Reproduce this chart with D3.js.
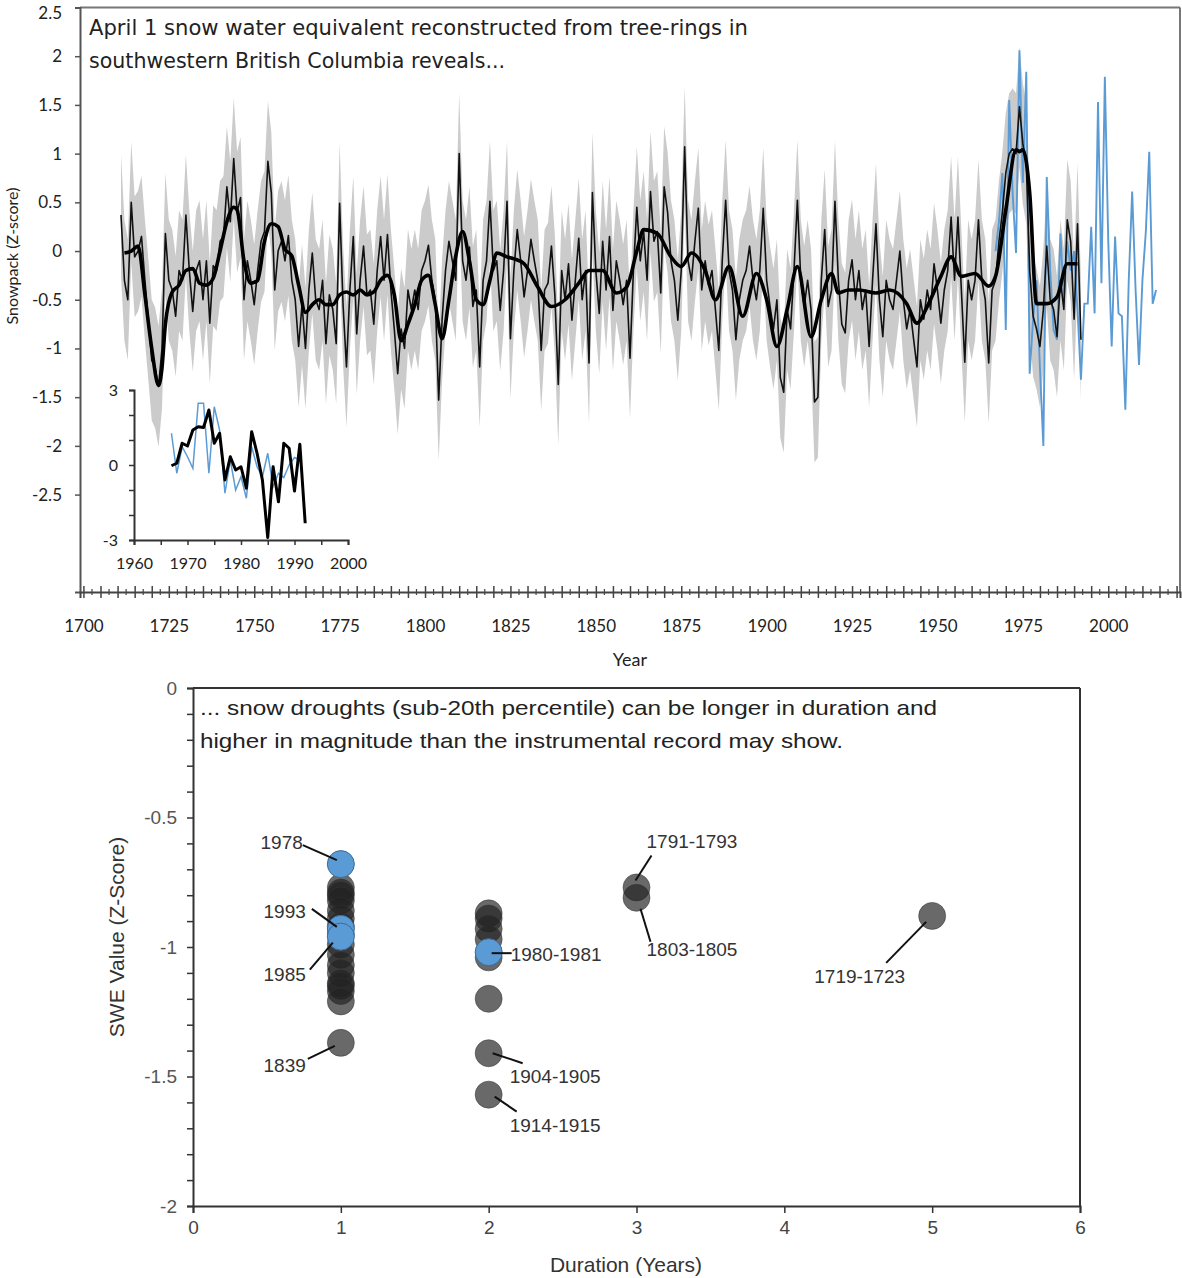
<!DOCTYPE html>
<html>
<head>
<meta charset="utf-8">
<script src="https://cdn.jsdelivr.net/npm/d3@7"></script>
<style>
  body { margin: 0; background: #fff; }
  svg { display: block; }
</style>
</head>
<body>
<svg id="chart" width="1182" height="1278"></svg>
<script>
// ---------------- DATA ----------------
// Tree-ring reconstruction of April 1 SWE (z-score), yearly from 1711
const reconStartYear = 1711;
const reconValues = [
  0.37, -0.3, -0.5, 0.5, -0.06, 0.0, 0.15, -0.3, -0.7, -1.12,
  -1.2, -1.39, -1.0, 0.18, -0.3, -0.4, -0.67, -0.2, -0.3, 0.37,
  -0.2, -0.62, -0.2, -0.1, -0.5, -0.1, -0.74, -0.15, -0.2, 0.1,
  0.15, 0.66, 0.3, 0.95, 0.4, 0.55, -0.5, -0.1, -0.3, -0.55,
  -0.2, 0.1, 0.2, 0.92, 0.6, -0.4, 0.0, 0.1, -0.1, 0.16,
  -0.3, -0.5, -0.98, -0.55, -1.0, -0.4, -0.02, -0.5, -0.6, -0.3,
  -0.95, -0.45, -0.6, -0.95, 0.49, -0.55, -1.19, -0.4, 0.15, -0.85,
  -0.3, 0.05, -0.45, -0.4, -0.75, -0.2, 0.15, -0.3, 0.17, -0.4,
  -0.8, -1.26, -0.8, -1.0, -0.4, -0.6, -0.4, -0.6, -0.2, -0.1,
  0.06, -0.3, -0.5, -1.53, -0.7, -0.2, 0.1, -0.1, -0.3, 1.0,
  -0.1, -0.3, 0.04, -0.57, -0.4, -1.19, -0.3, -0.1, 0.51, -0.2,
  -0.1, -0.61, -0.2, 0.51, -0.9, -0.2, 0.22, -0.1, -0.47, -0.2,
  0.12, -0.1, -0.3, -1.02, -0.4, -0.33, 0.05, -0.45, -1.37, -0.2,
  -0.5, -0.13, -0.71, -0.3, 0.13, -0.5, -0.2, -1.15, 0.6, -0.2,
  -0.64, 0.1, -0.4, 0.15, -0.61, -0.1, -0.3, -0.55, -0.3, -1.1,
  -0.2, 0.45, -0.1, 0.2, -0.3, 0.61, 0.1, 0.2, -0.43, 0.66,
  0.4, -0.1, -0.3, -0.71, -0.2, 1.07, -0.1, -0.3, 0.1, 0.44,
  -0.4, -0.1, -0.35, -0.2, -0.6, -1.02, -0.1, 0.52, -0.2, -0.4,
  -0.91, -0.5, -0.3, -0.2, 0.05, -0.3, -0.5, -0.2, 0.44, -0.3,
  -0.57, -0.8, -0.5, -1.3, -1.45, -0.6, -0.8, -0.2, 0.52, -0.3,
  -0.57, -0.3, -0.6, -1.55, -1.5, -0.3, 0.22, -0.57, -0.4, 0.51,
  -0.3, -0.75, -0.84, -0.3, -0.09, -0.5, -0.2, -0.6, -0.4, -0.98,
  -0.3, 0.28, -0.5, -0.88, -0.3, -0.5, -0.6, -0.3, 0.0, -0.5,
  -0.8, -0.6, -0.9, -1.19, -0.5, -0.7, -0.4, -0.6, -0.13, -0.4,
  -0.74, -0.4, -0.2, 0.35, -0.3, 0.35, -0.4, -1.14, -0.3, -0.5,
  -0.3, 0.32, -0.3, -0.5, -1.15, -0.4, -0.3, 0.1, 0.4, 0.8,
  1.0, 1.05, 1.0, 1.48, 1.1, 0.9, -0.2, -0.67, -0.8, -0.98,
  -0.6, 0.05, -0.5, -0.6, -0.88, -0.3, -0.6, 0.32, 0.1, -0.7,
  0.28, -0.91
];
// Uncertainty envelope half-width (z-score units)
const bandHalfWidth = 0.62;

// Smoothed reconstruction (thick line)
const smoothYears = [1712,1714,1716,1718,1720,1722,1723,1724,1726,1728,1730,1732,1734,1736,1738,1740,1742,1744,1745,1747,1749,1751,1753,1755,1757,1759,1761,1763,1765,1767,1769,1771,1773,1775,1777,1779,1781,1783,1785,1787,1789,1791,1793,1795,1797,1799,1801,1803,1805,1807,1809,1811,1813,1815,1817,1819,1821,1824,1826,1829,1833,1837,1841,1845,1848,1852,1856,1859,1862,1864,1868,1872,1875,1878,1882,1885,1889,1893,1897,1900,1903,1906,1909,1913,1916,1919,1921,1924,1927,1932,1936,1941,1944,1947,1951,1954,1957,1961,1965,1967,1970,1973,1974,1975,1977,1979,1982,1985,1988,1991];
const smoothValues = [-0.02,0.0,0.05,-0.45,-1.0,-1.38,-1.2,-0.75,-0.42,-0.35,-0.2,-0.18,-0.33,-0.35,-0.28,0.0,0.3,0.45,0.42,-0.1,-0.33,-0.3,0.1,0.28,0.25,0.02,-0.05,-0.35,-0.63,-0.55,-0.5,-0.55,-0.55,-0.45,-0.42,-0.45,-0.4,-0.45,-0.42,-0.3,-0.25,-0.45,-0.92,-0.75,-0.55,-0.3,-0.25,-0.55,-0.9,-0.5,-0.05,0.2,-0.1,-0.5,-0.55,-0.3,-0.02,-0.06,-0.08,-0.13,-0.37,-0.57,-0.5,-0.33,-0.2,-0.2,-0.43,-0.37,0.0,0.22,0.18,-0.06,-0.16,-0.02,-0.2,-0.5,-0.16,-0.67,-0.23,-0.5,-0.98,-0.6,-0.16,-0.88,-0.5,-0.23,-0.43,-0.4,-0.4,-0.43,-0.4,-0.54,-0.74,-0.57,-0.26,-0.06,-0.26,-0.23,-0.36,-0.26,0.42,1.04,1.02,1.04,0.6,-0.54,-0.54,-0.47,-0.13,-0.13];

// Instrumental record (blue), yearly from 1967
const instStartYear = 1967;
const instValues = [
  0.0, 0.3, 0.8, -0.81, 1.55, 0.6, -0.02, 2.06, 0.7, 1.84,
  -1.26, -0.7, -0.3, -1.2, -2.0, 0.76, -0.2, -0.81, -0.91, 0.18,
  -0.5, 0.1, -0.2, 0.0, -0.6, -1.32, -0.54, -0.54, 0.25, -0.64,
  1.53, -0.33, 1.79, 0.1, -0.98, 0.15, -0.64, -0.67, -1.63, -0.3,
  0.61, -0.4, -1.17, -0.3, 0.2, 1.02, -0.54, -0.4
];

// Inset: calibration period comparison (yearly from 1967)
const insetStartYear = 1967;
const insetRecon = [-0.03, 0.07, 0.87, 0.76, 1.4, 1.53, 1.5, 2.2, 0.87, 1.27, -0.6, 0.33, -0.2, -0.07, -0.93, 1.33, 0.47, -0.6, -2.9, -0.07, -1.47, 0.87, 0.67, -1.04, 0.83, -2.33];
const insetInst  = [1.27, -0.33, 0.73, 0.33, -0.13, 2.47, 2.47, -0.33, 2.33, 1.4, -1.13, 0.2, -1.0, -0.47, -1.33, 0.73, -0.07, -0.47, 0.47, -0.87, -0.33, -0.5, 0.0, 0.3, 0.2];

// Tick labels
const mainYTicks = [-2.5, -2, -1.5, -1, -0.5, 0, 0.5, 1, 1.5, 2, 2.5];
const mainXLabels = [1700, 1725, 1750, 1775, 1800, 1825, 1850, 1875, 1900, 1925, 1950, 1975, 2000];
const insetXLabels = [1960, 1970, 1980, 1990, 2000];
const insetYLabels = [-3, 0, 3];
const droughtXTicks = [0, 1, 2, 3, 4, 5, 6];
const droughtYLabels = [-2, -1.5, -1, -0.5, 0];

// Snow droughts: duration (years), mean SWE z-score, instrumental flag
const droughtDuration = [1,1,1,1,1,1,1,1,1,1,1,1,1,1,1,1,1, 2,2,2,2,2,2,2,2, 3,3, 5, 1,1,1, 2];
const droughtValue = [-0.77,-0.79,-0.8,-0.82,-0.86,-0.89,-0.92,-0.95,-0.99,-1.03,-1.07,-1.1,-1.14,-1.15,-1.17,-1.21,-1.37,
                      -0.87,-0.89,-0.93,-0.97,-1.04,-1.2,-1.41,-1.57,
                      -0.77,-0.81, -0.88, -0.68,-0.93,-0.96, -1.02];
const droughtInstrumental = [0,0,0,0,0,0,0,0,0,0,0,0,0,0,0,0,0, 0,0,0,0,0,0,0,0, 0,0, 0, 1,1,1, 1];
const droughtLabels = ["1978","1993","1985","1839","1980-1981","1904-1905","1914-1915","1791-1793","1803-1805","1719-1723"];
const droughtLabelIndex = [28, 29, 30, 16, 31, 23, 24, 25, 26, 27];

// ---------------- LAYOUT / STYLE ----------------
// leader line offsets [x1,y1,x2,y2] and text offset [tx,ty,anchor] relative to point centre
const labelLayout = [
  [-4,-4,-38,-19, -38,-15,"end"],
  [-4,-2,-29,-20, -35,-11,"end"],
  [-8, 6,-31, 33, -35, 44,"end"],
  [-6, 3,-33, 16, -35, 29,"end"],
  [ 3, 1, 23,  1,  22,  9,"start"],
  [ 4, 0, 34, 10,  21, 30,"start"],
  [ 6, 2, 28, 17,  21, 37,"start"],
  [-1,-7, 15,-32,  10,-39,"start"],
  [ 4,11, 14, 44,  10, 58,"start"],
  [-6, 6,-46, 47, -27, 67,"end"]
];

const svg = d3.select("#chart");
const defs = svg.append("defs");
defs.append("filter").attr("id","soft").append("feGaussianBlur").attr("stdDeviation", 0.7);

const calibri = "Lato, 'Open Sans', sans-serif";
const arial = "'Liberation Sans', Arial, sans-serif";

// ================= TOP CHART =================
const xM = d3.scaleLinear().domain([1699, 2021]).range([80, 1180]);
const yM = d3.scaleLinear().domain([-3.5, 2.5]).range([592, 7.5]);

const recon = reconValues.map((v, i) => ({ year: reconStartYear + i, v }));
const smooth = smoothYears.map((yr, i) => ({ year: yr, v: smoothValues[i] }));
const inst = instValues.map((v, i) => ({ year: instStartYear + i, v }));

const gTop = svg.append("g");

// uncertainty band
gTop.append("path").datum(recon)
  .attr("d", d3.area().x(d => xM(d.year)).y0(d => yM(d.v - bandHalfWidth)).y1(d => yM(d.v + bandHalfWidth)))
  .attr("fill", "#cbcbcb").attr("filter", "url(#soft)");

// instrumental
gTop.append("path").datum(inst)
  .attr("d", d3.line().x(d => xM(d.year)).y(d => yM(d.v)))
  .attr("fill", "none").attr("stroke", "#5b9bd5").attr("stroke-width", 1.9);

// thin yearly reconstruction
gTop.append("path").datum(recon)
  .attr("d", d3.line().x(d => xM(d.year)).y(d => yM(d.v)))
  .attr("fill", "none").attr("stroke", "#111").attr("stroke-width", 1.6).attr("stroke-linejoin", "round");

// smoothed reconstruction
gTop.append("path").datum(smooth)
  .attr("d", d3.line().curve(d3.curveMonotoneX).x(d => xM(d.year)).y(d => yM(d.v)))
  .attr("fill", "none").attr("stroke", "#000").attr("stroke-width", 3.6).attr("stroke-linejoin", "round");

// frame top & right
gTop.append("line").attr("x1", 80).attr("x2", 1180).attr("y1", 7.5).attr("y2", 7.5).attr("stroke", "#777").attr("stroke-width", 2);
gTop.append("line").attr("x1", 1180).attr("x2", 1180).attr("y1", 7.5).attr("y2", 592).attr("stroke", "#777").attr("stroke-width", 2);

// y axis
const yAxisM = d3.axisLeft(yM).tickValues(mainYTicks).tickSize(5).tickPadding(13).tickFormat(d => String(d));
const gyM = gTop.append("g").attr("transform", "translate(80,0)").call(yAxisM);
gyM.select(".domain").attr("stroke", "#555").attr("stroke-width", 2);
gyM.selectAll(".tick line").attr("stroke", "#555").attr("stroke-width", 1.5);
gyM.selectAll("text").attr("font-family", calibri).attr("font-size", 17).attr("fill", "#222");
// keep the top label inside the picture
gyM.selectAll(".tick").filter(d => d === 2.5).select("text").attr("dy", "0.62em");

// x axis: crossing ticks every 5 years, labels every 25
const xAxisM = d3.axisBottom(xM).tickValues(d3.range(1700, 2021, 5)).tickSize(6).tickPadding(22)
  .tickFormat(d => mainXLabels.includes(d) ? String(d) : "");
const gxM = gTop.append("g").attr("transform", "translate(0,592)").call(xAxisM);
gxM.select(".domain").attr("stroke", "#444").attr("stroke-width", 2);
gxM.selectAll(".tick line").attr("y1", -6).attr("y2", 6).attr("stroke", "#444").attr("stroke-width", 1.5);
gxM.selectAll("text").attr("font-family", calibri).attr("font-size", 17).attr("fill", "#222");
// minor ticks between
gTop.append("g").selectAll("line").data(d3.range(1702.5, 2021, 5)).join("line")
  .attr("x1", d => xM(d)).attr("x2", d => xM(d)).attr("y1", 589).attr("y2", 595)
  .attr("stroke", "#444").attr("stroke-width", 1.2);

// axis titles
gTop.append("text").attr("transform", "translate(18,256) rotate(-90)").attr("text-anchor", "middle")
  .attr("font-family", calibri).attr("font-size", 16).attr("fill", "#222").text("Snowpack (Z-score)");
gTop.append("text").attr("x", 630).attr("y", 666).attr("text-anchor", "middle")
  .attr("font-family", calibri).attr("font-size", 18).attr("fill", "#222").text("Year");

// title
gTop.append("text").attr("x", 89).attr("y", 35).attr("font-family", "'DejaVu Sans', sans-serif").attr("font-size", 21)
  .attr("fill", "#222").attr("textLength", 659).attr("lengthAdjust", "spacingAndGlyphs")
  .text("April 1 snow water equivalent reconstructed from tree-rings in");
gTop.append("text").attr("x", 89).attr("y", 68).attr("font-family", "'DejaVu Sans', sans-serif").attr("font-size", 21)
  .attr("fill", "#222").attr("textLength", 416).attr("lengthAdjust", "spacingAndGlyphs")
  .text("southwestern British Columbia reveals...");

// ---------------- inset ----------------
const xI = d3.scaleLinear().domain([1960, 2000]).range([134, 348]);
const yI = d3.scaleLinear().domain([-3, 3]).range([540, 390]);
const gIn = svg.append("g");
const insetR = insetRecon.map((v, i) => ({ year: insetStartYear + i, v }));
const insetI = insetInst.map((v, i) => ({ year: insetStartYear + i, v }));

gIn.append("path").datum(insetI)
  .attr("d", d3.line().x(d => xI(d.year)).y(d => yI(d.v)))
  .attr("fill", "none").attr("stroke", "#5b9bd5").attr("stroke-width", 1.5);
gIn.append("path").datum(insetR)
  .attr("d", d3.line().x(d => xI(d.year)).y(d => yI(d.v)))
  .attr("fill", "none").attr("stroke", "#000").attr("stroke-width", 3).attr("stroke-linejoin", "round");

const yAxisI = d3.axisLeft(yI).tickValues(d3.range(-3, 3.1, 1)).tickSize(5).tickPadding(11)
  .tickFormat(d => insetYLabels.includes(d) ? String(d) : "");
const gyI = gIn.append("g").attr("transform", "translate(134,0)").call(yAxisI);
gyI.select(".domain").attr("stroke", "#333").attr("stroke-width", 2);
gyI.selectAll(".tick line").attr("stroke", "#333").attr("stroke-width", 1.5);
gyI.selectAll("text").attr("font-family", calibri).attr("font-size", 16).attr("fill", "#222");

const xAxisI = d3.axisBottom(xI).tickValues(d3.range(1960, 2001, 5)).tickSize(5).tickPadding(13)
  .tickFormat(d => insetXLabels.includes(d) ? String(d) : "");
const gxI = gIn.append("g").attr("transform", "translate(0,540)").call(xAxisI);
gxI.select(".domain").attr("stroke", "#333").attr("stroke-width", 2);
gxI.selectAll(".tick line").attr("stroke", "#333").attr("stroke-width", 1.5);
gxI.selectAll("text").attr("font-family", calibri).attr("font-size", 16).attr("fill", "#222");

// ================= BOTTOM CHART =================
const xB = d3.scaleLinear().domain([0, 6]).range([193, 1080]);
const yB = d3.scaleLinear().domain([-2, 0]).range([1206, 688]);
const gBot = svg.append("g");

gBot.append("line").attr("x1", 193).attr("x2", 1080).attr("y1", 688).attr("y2", 688).attr("stroke", "#333").attr("stroke-width", 2);
gBot.append("line").attr("x1", 1080).attr("x2", 1080).attr("y1", 688).attr("y2", 1206).attr("stroke", "#333").attr("stroke-width", 2);

const yAxisB = d3.axisLeft(yB).tickValues(d3.range(-20, 1, 1).map(k => k / 10)).tickSize(6).tickPadding(10)
  .tickFormat(d => droughtYLabels.includes(d) ? String(d) : "");
const gyB = gBot.append("g").attr("transform", "translate(193,0)").call(yAxisB);
gyB.select(".domain").attr("stroke", "#333").attr("stroke-width", 2);
gyB.selectAll(".tick line").attr("stroke", "#333").attr("stroke-width", 1.5);
gyB.selectAll("text").attr("font-family", arial).attr("font-size", 19).attr("fill", "#555");

const xAxisB = d3.axisBottom(xB).tickValues(droughtXTicks).tickSize(7).tickPadding(8).tickFormat(d => String(d));
const gxB = gBot.append("g").attr("transform", "translate(0,1206)").call(xAxisB);
gxB.select(".domain").attr("stroke", "#333").attr("stroke-width", 2);
gxB.selectAll(".tick line").attr("stroke", "#333").attr("stroke-width", 1.5);
gxB.selectAll("text").attr("font-family", arial).attr("font-size", 19).attr("fill", "#444");

gBot.append("text").attr("x", 626).attr("y", 1272).attr("text-anchor", "middle")
  .attr("font-family", arial).attr("font-size", 21).attr("fill", "#333").text("Duration (Years)");
gBot.append("text").attr("transform", "translate(124,937) rotate(-90)").attr("text-anchor", "middle")
  .attr("font-family", arial).attr("font-size", 21).attr("fill", "#333").text("SWE Value (Z-Score)");

gBot.append("text").attr("x", 200).attr("y", 715).attr("font-family", arial).attr("font-size", 21).attr("fill", "#222")
  .attr("textLength", 737).attr("lengthAdjust", "spacingAndGlyphs")
  .text("... snow droughts (sub-20th percentile) can be longer in duration and");
gBot.append("text").attr("x", 200).attr("y", 748).attr("font-family", arial).attr("font-size", 21).attr("fill", "#222")
  .attr("textLength", 643).attr("lengthAdjust", "spacingAndGlyphs")
  .text("higher in magnitude than the instrumental record may show.");

const pts = droughtDuration.map((d, i) => ({ d, v: droughtValue[i], inst: droughtInstrumental[i] === 1 }));
// gray reconstruction droughts first, instrumental (blue) on top
gBot.append("g").selectAll("circle").data(pts.filter(p => !p.inst)).join("circle")
  .attr("cx", p => xB(p.d)).attr("cy", p => yB(p.v)).attr("r", 13.5)
  .attr("fill", "#222").attr("fill-opacity", 0.68).attr("stroke", "#333").attr("stroke-opacity", 0.5).attr("stroke-width", 1);
gBot.append("g").selectAll("circle").data(pts.filter(p => p.inst)).join("circle")
  .attr("cx", p => xB(p.d)).attr("cy", p => yB(p.v)).attr("r", 13.5)
  .attr("fill", "#5b9bd5").attr("stroke", "#3a6a9a").attr("stroke-width", 1);

// annotations
const gAnn = gBot.append("g");
droughtLabels.forEach((lab, k) => {
  const p = pts[droughtLabelIndex[k]];
  const cx = xB(p.d), cy = yB(p.v);
  const L = labelLayout[k];
  gAnn.append("line").attr("x1", cx + L[0]).attr("y1", cy + L[1]).attr("x2", cx + L[2]).attr("y2", cy + L[3])
    .attr("stroke", "#111").attr("stroke-width", 2);
  gAnn.append("text").attr("x", cx + L[4]).attr("y", cy + L[5]).attr("text-anchor", L[6])
    .attr("font-family", arial).attr("font-size", 19).attr("fill", "#333").text(lab);
});
</script>
</body>
</html>
